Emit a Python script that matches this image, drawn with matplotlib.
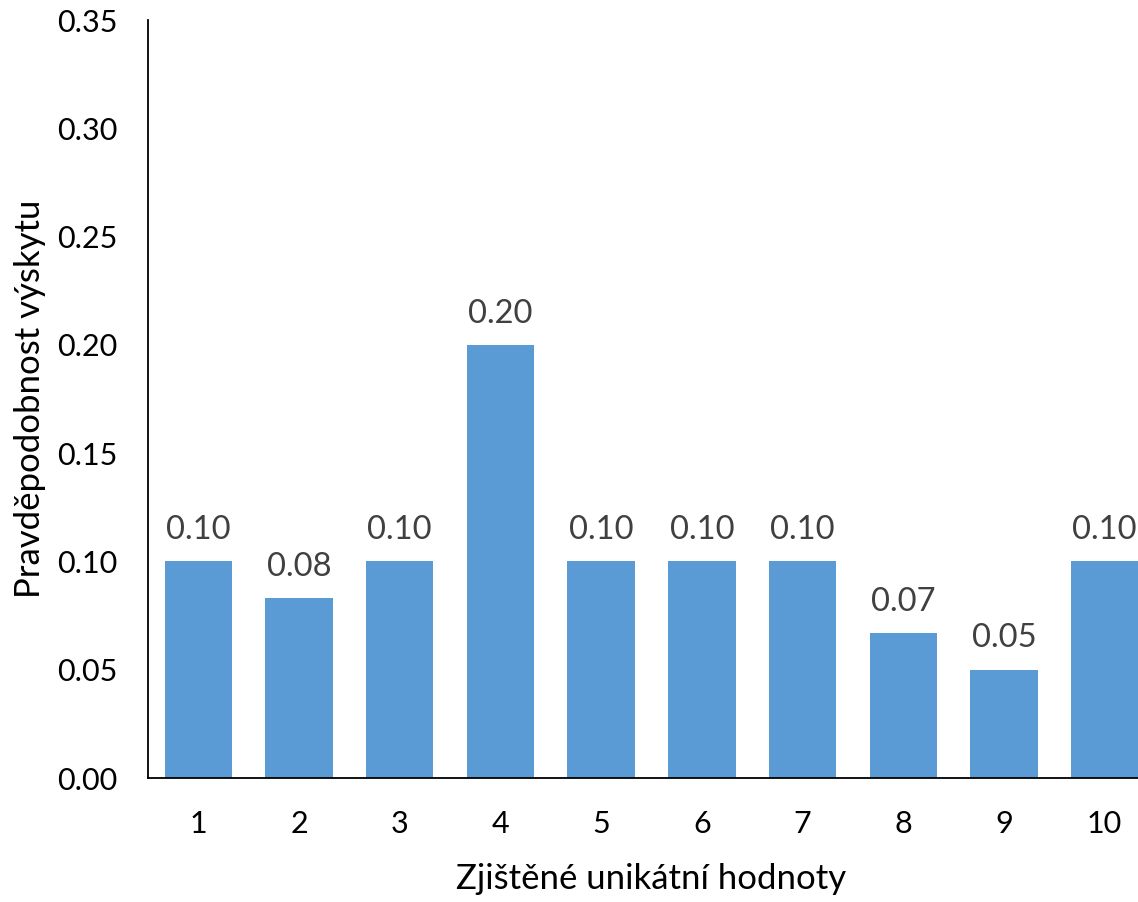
import matplotlib.pyplot as plt

categories = ["1", "2", "3", "4", "5", "6", "7", "8", "9", "10"]
values = [0.10, 0.083, 0.10, 0.20, 0.10, 0.10, 0.10, 0.067, 0.05, 0.10]
yticks = [0.00, 0.05, 0.10, 0.15, 0.20, 0.25, 0.30, 0.35]

plt.rcParams['font.family'] = ['Lato', 'DejaVu Sans']

fig = plt.figure(figsize=(11.38, 9.02), dpi=100)
# axes runs a bit past the right edge, like the original
ax = fig.add_axes([148 / 1138, 124 / 902, 1007 / 1138, 758 / 902])

x = list(range(len(categories)))
bars = ax.bar(x, values, width=0.67, color='#5B9BD5')

for xi, v in zip(x, values):
    ax.annotate(f"{v:.2f}", (xi, v), xytext=(0, 16), textcoords='offset points',
                ha='center', va='baseline', fontsize=23.5, color='#404040')

ax.set_xlim(-0.5, len(categories) - 0.5)
ax.set_ylim(0, 0.35)
ax.set_xticks(x)
ax.set_xticklabels(categories)
ax.set_yticks(yticks)
ax.set_yticklabels([f"{t:.2f}" for t in yticks])
ax.tick_params(axis='both', length=0, labelsize=22, colors='black')
ax.tick_params(axis='x', pad=23)
ax.tick_params(axis='y', pad=22)

for s in ['top', 'right']:
    ax.spines[s].set_visible(False)
for s in ['left', 'bottom']:
    ax.spines[s].set_linewidth(1.3)
    ax.spines[s].set_color('black')

ax.set_xlabel("Zjištěné unikátní hodnoty", fontsize=25, labelpad=18)
ax.set_ylabel("Pravděpodobnost výskytu", fontsize=25, labelpad=8)

fig.savefig("out.png", dpi=100)
